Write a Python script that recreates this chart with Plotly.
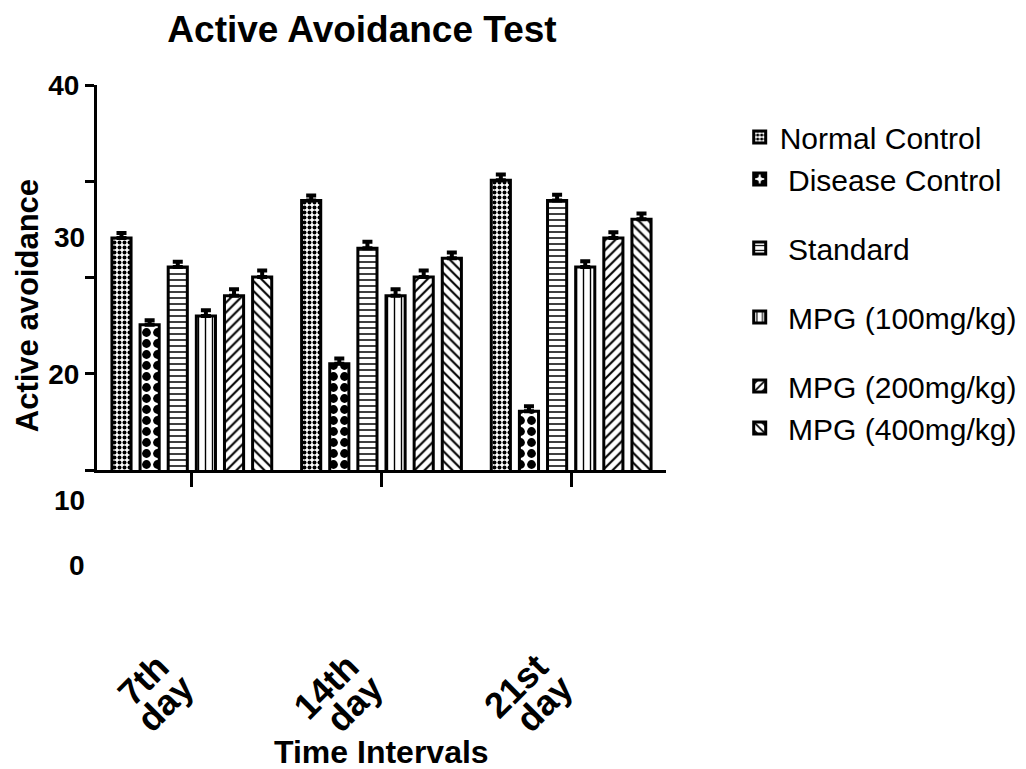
import plotly.graph_objects as go

# ---------------- data ----------------
categories = ["7th day", "14th day", "21st day"]
category_line1 = ["7th", "14th", "21st"]
category_line2 = ["day", "day", "day"]
series_names = ["Normal Control", " Disease Control", " Standard",
                " MPG (100mg/kg)", " MPG (200mg/kg)", " MPG (400mg/kg)"]
normal_control = [29.4, 32.0, 33.4]
disease_control = [23.4, 20.7, 17.4]
standard = [27.4, 28.7, 32.0]
mpg_100 = [24.0, 25.4, 27.4]
mpg_200 = [25.4, 26.7, 29.4]
mpg_400 = [26.7, 28.0, 30.7]
err_normal = [0.35, 0.35, 0.4]
err_disease = [0.3, 0.35, 0.35]
err_standard = [0.35, 0.45, 0.4]
err_mpg_100 = [0.4, 0.45, 0.4]
err_mpg_200 = [0.45, 0.45, 0.4]
err_mpg_400 = [0.45, 0.4, 0.4]

y_range = [40 - 80 / 3, 40]
y_tick_vals = [40 - 80 / 3, 20, 80 / 3, 100 / 3, 40]
y_tick_text = ["", "20", "", "", "40"]
# stray y labels as printed in the original figure
label_30_value = 29.47
stray_labels = ["10", "0"]
stray_label_paper_y = [-0.078, -0.249]

# ---------------- layout geometry ----------------
W, H = 1026, 769
OFF = 8  # default page body margin
PL, PR, PT, PB = 97 - OFF, 676 - OFF, 85 - OFF, 470 - OFF
PW, PH = PR - PL, PB - PT

FONT = "Liberation Sans, Arial, sans-serif"
patterns = [
    dict(shape=".", size=5, solidity=0.5),
    dict(shape=".", size=11, solidity=0.5),
    dict(shape="-", size=6, solidity=0.25),
    dict(shape="|", size=7, solidity=0.2),
    dict(shape="/", size=7, solidity=0.3),
    dict(shape="\\", size=7, solidity=0.3),
]
legend_groups = ["g1", "g1", "g2", "g3", "g4", "g4"]
values = [normal_control, disease_control, standard, mpg_100, mpg_200, mpg_400]
errors = [err_normal, err_disease, err_standard, err_mpg_100, err_mpg_200, err_mpg_400]

fig = go.Figure()
for name, vals, errs, pat, grp in zip(series_names, values, errors, patterns, legend_groups):
    fig.add_trace(go.Bar(
        name=name, x=categories, y=vals, legendgroup=grp,
        marker=dict(color="white", line=dict(color="black", width=3),
                    pattern=dict(fgcolor="black", bgcolor="white", fillmode="replace", **pat)),
        error_y=dict(type="data", array=errs, symmetric=False, arrayminus=[0] * len(errs),
                     color="black", thickness=4, width=5, visible=True),
    ))

fig.update_layout(
    width=W, height=H, autosize=False,
    margin=dict(l=PL, r=W - PR, t=PT, b=H - PB),
    paper_bgcolor="white", plot_bgcolor="white",
    barmode="group", bargap=0.11, bargroupgap=0.32,
    font=dict(family=FONT, color="black"),
    title=dict(text="<b>Active Avoidance Test</b>", font=dict(size=37, family=FONT, color="black"),
               x=(362 - OFF) / W, xanchor="center", y=1 - (29 - OFF) / H, yanchor="middle",
               xref="container", yref="container"),
    legend=dict(x=(751 - 97) / 579, y=(470 - 111) / 385, xanchor="left", yanchor="top", tracegroupgap=27,
                font=dict(size=30, family=FONT, color="black"), bgcolor="rgba(0,0,0,0)",
                traceorder="grouped"),
    showlegend=True,
)
fig.update_xaxes(
    showline=True, linecolor="black", linewidth=3, mirror=False,
    ticks="outside", ticklen=14, tickwidth=3, tickcolor="black",
    showticklabels=False, showgrid=False, zeroline=False,
)
fig.update_yaxes(
    range=y_range, showline=True, linecolor="black", linewidth=3,
    tickmode="array", tickvals=y_tick_vals, ticktext=y_tick_text,
    ticks="outside", ticklen=9, tickwidth=3, tickcolor="black",
    tickfont=dict(size=28, family=FONT, color="black", weight="bold"),
    showgrid=False, zeroline=False,
)

bold = dict(family=FONT, color="black", weight="bold")
annotations = [
    dict(text="30", xref="paper", yref="y", x=0, y=label_30_value, xanchor="right", yanchor="middle",
         xshift=-10, showarrow=False, font=dict(size=28, **bold)),
    dict(text="Active avoidance", xref="paper", yref="paper", x=(26 - 97) / 579, y=(470 - 306) / 385,
         textangle=-90, xanchor="center", yanchor="middle", showarrow=False,
         font=dict(size=31, **bold)),
    dict(text="Time Intervals", xref="paper", yref="paper", x=(387 - 97) / 579, y=(470 - 752) / 385,
         xanchor="center", yanchor="middle", showarrow=False,
         font=dict(size=32, **bold)),
]
for txt, py in zip(stray_labels, stray_label_paper_y):
    annotations.append(dict(text=txt, xref="paper", yref="paper", x=0, y=py, xanchor="right", yanchor="middle",
                            xshift=-10, showarrow=False, font=dict(size=28, **bold)))
# rotated two-line category labels (tight line spacing as in the original)
for cat, l1, l2 in zip(categories, category_line1, category_line2):
    annotations.append(dict(text=l1, xref="x", yref="paper", x=cat, y=(470 - 643) / 385,
                            xanchor="right", yanchor="top", xshift=-12, textangle=-45,
                            showarrow=False, font=dict(size=36, **bold)))
    annotations.append(dict(text=l2, xref="x", yref="paper", x=cat, y=(470 - 664) / 385,
                            xanchor="right", yanchor="top", xshift=12, textangle=-45,
                            showarrow=False, font=dict(size=36, **bold)))
fig.update_layout(annotations=annotations)

fig.write_html("out.html")
